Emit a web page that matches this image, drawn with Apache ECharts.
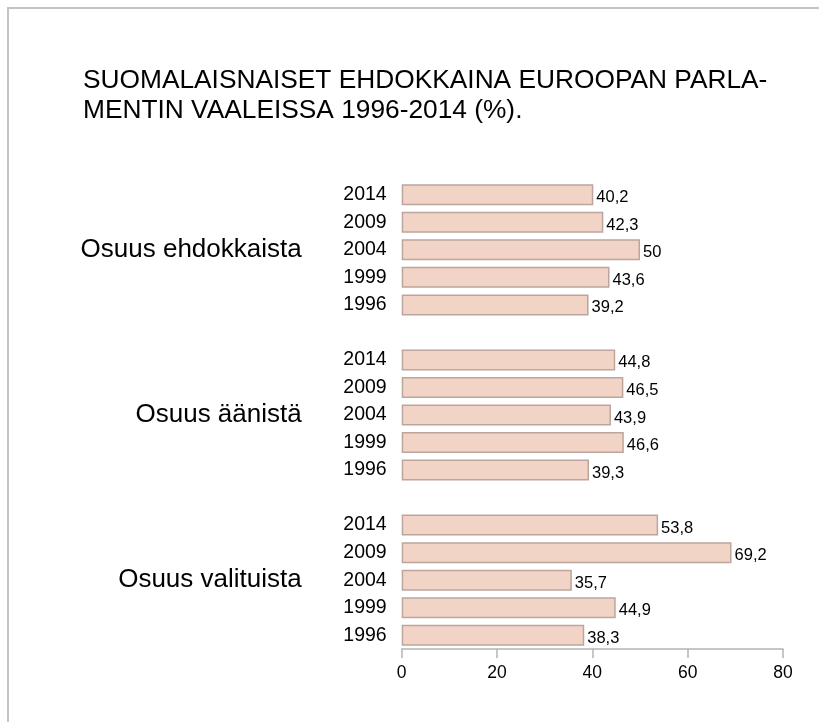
<!DOCTYPE html>
<html>
<head>
<meta charset="utf-8">
<script src="https://cdn.jsdelivr.net/npm/echarts@6/dist/echarts.min.js"></script>
<style>
  html, body { margin: 0; padding: 0; background: #fff; }
  #main { width: 819px; height: 722px; }
</style>
</head>
<body>
<div id="main"></div>
<script>
var groups = ["Osuus ehdokkaista", "Osuus äänistä", "Osuus valituista"];
var years = ["2014", "2009", "2004", "1999", "1996"];
var ehdokkaista = [40.2, 42.3, 50, 43.6, 39.2];
var aanista = [44.8, 46.5, 43.9, 46.6, 39.3];
var valituista = [53.8, 69.2, 35.7, 44.9, 38.3];
var xTicks = [0, 20, 40, 60, 80];

var FONT = "Liberation Sans, Arial, Helvetica, sans-serif";

// rivit ylhäältä alas, ryhmien väliin tyhjä rivi
var rowYears = [], rowGroups = [], rowValues = [];
var groupValues = [ehdokkaista, aanista, valituista];
for (var g = 0; g < groups.length; g++) {
  if (g > 0) {
    rowYears.push("");
    rowGroups.push("");
    rowValues.push(null);
  }
  for (var i = 0; i < years.length; i++) {
    rowYears.push(years[i]);
    rowGroups.push(i == 2 ? groups[g] : "");
    rowValues.push(groupValues[g][i]);
  }
}

var chart = echarts.init(document.getElementById("main"));
var option = {
  backgroundColor: "#fff",
  animation: false,
  title: {
    text: "SUOMALAISNAISET EHDOKKAINA EUROOPAN PARLA-\nMENTIN VAALEISSA 1996-2014 (%).",
    left: 78,
    top: 61,
    textStyle: {
      fontFamily: FONT,
      fontSize: 26.3,
      lineHeight: 29.5,
      fontWeight: "normal",
      color: "#000"
    }
  },
  graphic: [
    {
      type: "polyline",
      shape: { points: [[8, 722], [8, 8], [819, 8]] },
      style: { stroke: "#c4c4c4", lineWidth: 2, fill: null }
    }
  ],
  grid: {
    left: 401.7,
    right: 36,
    top: 181,
    bottom: 73
  },
  xAxis: {
    type: "value",
    min: xTicks[0],
    max: xTicks[xTicks.length - 1],
    interval: 20,
    splitLine: { show: false },
    axisLine: { show: true, lineStyle: { color: "#b4b4b4", width: 1.5 } },
    axisTick: { show: true, length: 9, lineStyle: { color: "#b4b4b4", width: 1.5 } },
    axisLabel: {
      margin: 15,
      color: "#000",
      fontFamily: FONT,
      fontSize: 17.5
    }
  },
  yAxis: [
    {
      type: "category",
      inverse: true,
      data: rowYears,
      axisLine: { show: false },
      axisTick: { show: false },
      splitLine: { show: false },
      axisLabel: {
        interval: 0,
        margin: 15,
        color: "#000",
        fontFamily: FONT,
        fontSize: 19.5
      }
    },
    {
      type: "category",
      inverse: true,
      position: "left",
      offset: 100,
      data: rowGroups,
      axisLine: { show: false },
      axisTick: { show: false },
      splitLine: { show: false },
      axisLabel: {
        interval: 0,
        margin: 0,
        color: "#000",
        fontFamily: FONT,
        fontSize: 26
      }
    }
  ],
  series: [
    {
      type: "bar",
      yAxisIndex: 0,
      data: rowValues,
      barWidth: 21,
      itemStyle: {
        color: "#f2d4c7",
        borderColor: "#bba59d",
        borderWidth: 1.5
      },
      label: {
        show: true,
        position: "right",
        distance: 3,
        color: "#000",
        fontFamily: FONT,
        fontSize: 16.5,
        offset: [0, 3],
        formatter: function (p) {
          return String(p.value).replace(".", ",");
        }
      }
    }
  ]
};
chart.setOption(option);
</script>
</body>
</html>
